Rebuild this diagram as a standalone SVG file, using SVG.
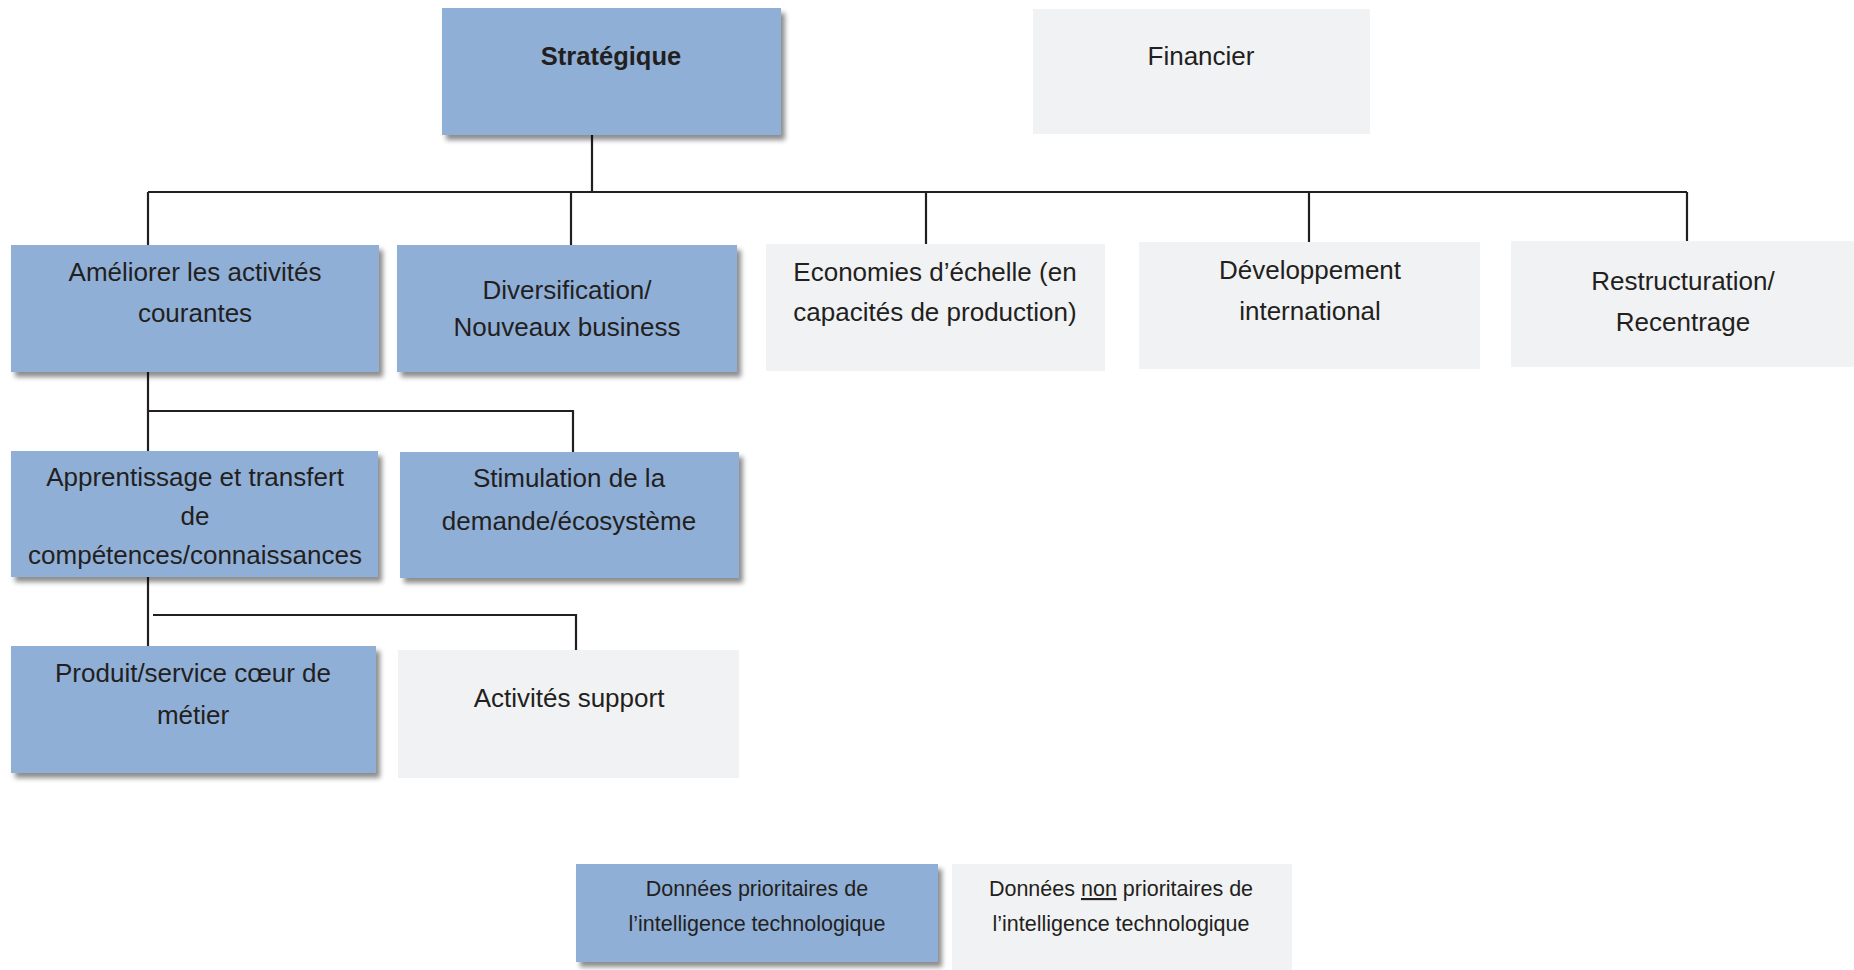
<svg xmlns="http://www.w3.org/2000/svg" width="1854" height="970" viewBox="0 0 1854 970">
<defs>
<filter id="sh" x="-5%" y="-5%" width="115%" height="125%">
<feDropShadow dx="4" dy="5" stdDeviation="2.5" flood-color="#000" flood-opacity="0.45"/>
</filter>
<clipPath id="clipApp"><rect x="11" y="451" width="367" height="118"/></clipPath>
<style>
.blue{fill:#8FAFD7;filter:url(#sh);}
.grey{fill:#F1F2F3;}
.t{font-family:"Liberation Sans",Arial,sans-serif;font-size:26px;fill:#231F20;text-anchor:middle;}
.b{font-weight:bold;font-size:25.5px;}
.s{font-size:21.5px;}
.ln{fill:none;stroke:#231F20;stroke-width:2.2;}
</style>
</defs>
<rect width="1854" height="970" fill="#fff"/>
<g id="connectors">
<path class="ln" d="M592 135 V192 M148 192 H1687 M148 192 V245 M571 192 V245 M926 192 V244 M1309 192 V242 M1687 192 V241"/>
<path class="ln" d="M148 372 V451 M148 411 H573 V452"/>
<path class="ln" d="M148 577 V646 M153 615 H576 V650"/>
</g>
<g id="strategique"><rect class="blue" x="442" y="8" width="339" height="127"/><text class="t b" x="611" y="65">Stratégique</text></g>
<g id="financier"><rect class="grey" x="1033" y="9" width="337" height="125"/><text class="t" x="1201" y="65">Financier</text></g>
<g id="ameliorer"><rect class="blue" x="11" y="245" width="368" height="127"/><text class="t" x="195" y="281">Améliorer les activités</text><text class="t" x="195" y="322">courantes</text></g>
<g id="diversification"><rect class="blue" x="397" y="245" width="340" height="127"/><text class="t" x="567" y="299">Diversification/</text><text class="t" x="567" y="336">Nouveaux business</text></g>
<g id="economies"><rect class="grey" x="766" y="244" width="339" height="127"/><text class="t" x="935" y="281">Economies d’échelle (en</text><text class="t" x="935" y="321">capacités de production)</text></g>
<g id="developpement"><rect class="grey" x="1139" y="242" width="341" height="127"/><text class="t" x="1310" y="279">Développement</text><text class="t" x="1310" y="320">international</text></g>
<g id="restructuration"><rect class="grey" x="1511" y="241" width="343" height="126"/><text class="t" x="1683" y="290">Restructuration/</text><text class="t" x="1683" y="331">Recentrage</text></g>
<g id="apprentissage"><rect class="blue" x="11" y="451" width="367" height="126"/><g clip-path="url(#clipApp)"><text class="t" x="195" y="486">Apprentissage et transfert</text><text class="t" x="195" y="525">de</text><text class="t" x="195" y="564">compétences/connaissances</text></g></g>
<g id="stimulation"><rect class="blue" x="400" y="452" width="339" height="126"/><text class="t" x="569" y="487">Stimulation de la</text><text class="t" x="569" y="530">demande/écosystème</text></g>
<g id="produit"><rect class="blue" x="11" y="646" width="365" height="127"/><text class="t" x="193" y="682">Produit/service cœur de</text><text class="t" x="193" y="724">métier</text></g>
<g id="support"><rect class="grey" x="398" y="650" width="341" height="128"/><text class="t" x="569" y="707">Activités support</text></g>
<g id="legend-prioritaires"><rect class="blue" x="576" y="864" width="362" height="98"/><text class="t s" x="757" y="896">Données prioritaires de</text><text class="t s" x="757" y="931">l’intelligence technologique</text></g>
<g id="legend-non-prioritaires"><rect class="grey" x="952" y="864" width="340" height="106"/><text class="t s" x="1121" y="896">Données <tspan text-decoration="underline">non</tspan> prioritaires de</text><text class="t s" x="1121" y="931">l’intelligence technologique</text></g>
</svg>
